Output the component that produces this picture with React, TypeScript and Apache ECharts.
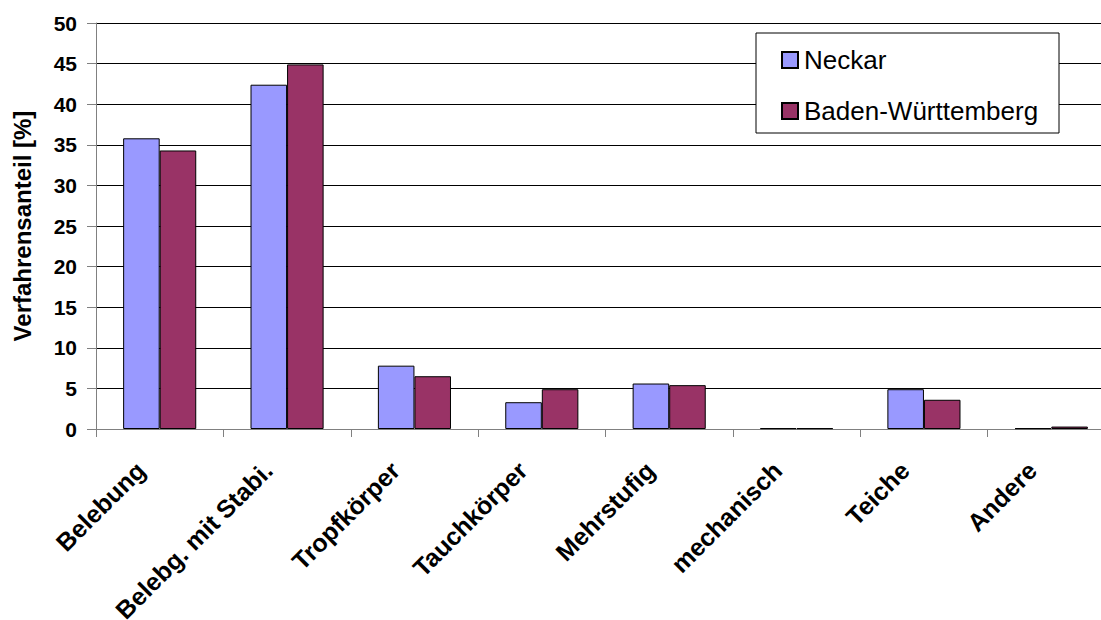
import React, { useEffect, useRef } from "react";
import * as echarts from "echarts";

const categories = ["Belebung", "Belebg. mit Stabi.", "Tropfkörper", "Tauchkörper", "Mehrstufig", "mechanisch", "Teiche", "Andere"];
const neckar = [35.8, 42.4, 7.8, 3.3, 5.6, 0.1, 4.9, 0.1];
const badenWuerttemberg = [34.3, 44.9, 6.5, 4.9, 5.4, 0.1, 3.6, 0.3];
const seriesNames = ["Neckar", "Baden-Württemberg"];
const yTitle = "Verfahrensanteil [%]";

const FONT = "'Liberation Sans', Arial, sans-serif";

export default function App() {
  const ref = useRef<HTMLDivElement>(null);
  useEffect(() => {
    document.body.style.margin = "0";
    const chart = echarts.init(ref.current!, null, { renderer: "svg" });
    chart.setOption({
      animation: false,
      backgroundColor: "#fff",
      textStyle: { fontFamily: FONT },
      grid: { left: 96, top: 23, right: -14, bottom: 191, containLabel: false, outerBoundsMode: "none" },
      graphic: [
        {
          type: "rect",
          z: 3,
          shape: { x: 756, y: 33, width: 303, height: 100 },
          style: { fill: "#fff", stroke: "#000", lineWidth: 1 },
        },
      ],
      legend: {
        z: 5,
        orient: "vertical",
        left: 776,
        top: 42,
        itemWidth: 16,
        itemHeight: 16,
        itemGap: 25,
        icon: "rect",
        data: seriesNames,
        textStyle: { fontFamily: FONT, fontSize: 26, color: "#000", padding: [0, 0, 0, 1] },
      },
      xAxis: {
        type: "category",
        data: categories,
        axisLine: { lineStyle: { color: "#808080", width: 1 } },
        axisTick: { show: true, length: 8, lineStyle: { color: "#808080" } },
        axisLabel: {
          interval: 0,
          rotate: 45,
          margin: 18,
          padding: [0, 27, 0, 0],
          fontFamily: FONT,
          fontSize: 25,
          fontWeight: "bold",
          color: "#000",
        },
      },
      yAxis: {
        type: "value",
        min: 0,
        max: 50,
        interval: 5,
        name: yTitle,
        nameLocation: "middle",
        nameGap: 62,
        nameTextStyle: { fontFamily: FONT, fontSize: 24, fontWeight: "bold", color: "#000" },
        axisLine: { show: true, lineStyle: { color: "#808080", width: 1 } },
        axisTick: { show: true, length: 9, lineStyle: { color: "#808080" } },
        axisLabel: { margin: 19, fontFamily: FONT, fontSize: 21, fontWeight: "bold", color: "#000" },
        splitLine: { show: true, lineStyle: { color: "#000", width: 1 } },
      },
      series: [
        {
          name: seriesNames[0],
          type: "bar",
          data: neckar,
          barGap: "0%",
          barCategoryGap: "42.6%",
          itemStyle: { color: "#9999FF", borderColor: "#000", borderWidth: 1 },
        },
        {
          name: seriesNames[1],
          type: "bar",
          data: badenWuerttemberg,
          barGap: "0%",
          barCategoryGap: "42.6%",
          itemStyle: { color: "#993366", borderColor: "#000", borderWidth: 1 },
        },
      ],
    });
    return () => chart.dispose();
  }, []);
  return <div ref={ref} style={{ width: 1101, height: 620 }} />;
}
